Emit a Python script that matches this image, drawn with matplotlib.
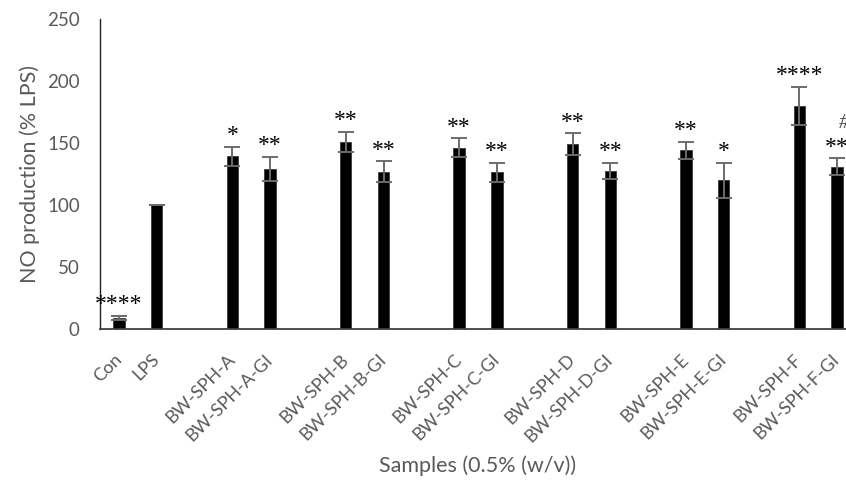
import numpy as np
import matplotlib.pyplot as plt

# Excel-style chart: empty categories leave the gaps between groups
categories = ['Con', 'LPS', '',
              'BW-SPH-A', 'BW-SPH-A-GI', '',
              'BW-SPH-B', 'BW-SPH-B-GI', '',
              'BW-SPH-C', 'BW-SPH-C-GI', '',
              'BW-SPH-D', 'BW-SPH-D-GI', '',
              'BW-SPH-E', 'BW-SPH-E-GI', '',
              'BW-SPH-F', 'BW-SPH-F-GI']
nan = np.nan
values = [8.9, 100, nan,
          139.3, 129, nan,
          151, 127, nan,
          146.2, 126.4, nan,
          149, 127.4, nan,
          144, 120, nan,
          180, 131]
errors = [1.6, 0.3, nan,
          7.7, 9.7, nan,
          8.1, 8.1, nan,
          7.5, 7.8, nan,
          8.9, 6.5, nan,
          7, 14.2, nan,
          15.3, 6.8]
stars = ['****', '', '',
         '*', '**', '',
         '**', '**', '',
         '**', '**', '',
         '**', '**', '',
         '**', '*', '',
         '****', '**']
hash_mark = {'BW-SPH-F-GI': '#'}

plt.rcParams['font.family'] = ['Lato', 'DejaVu Sans']

fig = plt.figure(figsize=(8.46, 4.83), dpi=100)
# axes runs past the right edge, as in the cropped original
ax = fig.add_axes([100 / 846, (483 - 329) / 483, 756 / 846, 310 / 483])

x = np.arange(len(categories))
vals = np.array(values, dtype=float)
errs = np.array(errors, dtype=float)

ax.bar(x, vals, width=0.3, color='black', edgecolor='#3a3a3a', linewidth=0.6, zorder=2)
ax.errorbar(x, vals, yerr=errs, fmt='none', ecolor='#6b6b6b', elinewidth=1.4,
            capsize=5.5, capthick=1.4, zorder=3)

for xi, v, e, s in zip(x, vals, errs, stars):
    if s:
        ax.annotate(s, (xi, v + e), xytext=(0, 4), textcoords='offset points',
                    ha='center', va='baseline', fontsize=17,
                    family='Liberation Serif', color='black')
for xi, c, v, e in zip(x, categories, vals, errs):
    if c in hash_mark:
        ax.annotate(hash_mark[c], (xi + 0.19, v + e), xytext=(0, 22),
                    textcoords='offset points', ha='center', va='baseline',
                    fontsize=15, family='Liberation Serif', style='italic',
                    color='#444444')

ax.set_xlim(-0.5, len(categories) - 0.5)
ax.set_ylim(0, 250)
ax.set_yticks([0, 50, 100, 150, 200, 250])
ax.set_xticks(x)
ax.set_xticklabels(categories)
ax.tick_params(axis='both', length=0, colors='#595959')
ax.tick_params(axis='y', pad=14.5, labelsize=13.5)
ax.tick_params(axis='x', pad=20, labelsize=13)
for lab in ax.get_xticklabels():
    lab.set_rotation(45)
    lab.set_rotation_mode('anchor')
    lab.set_ha('right')
    lab.set_va('center')

for sp in ['top', 'right']:
    ax.spines[sp].set_visible(False)
ax.spines['left'].set_color('#202020')
ax.spines['bottom'].set_color('#404040')
ax.spines['left'].set_linewidth(1.0)
ax.spines['bottom'].set_linewidth(1.3)

ax.set_ylabel('NO production (% LPS)', fontsize=15.5, color='#595959')
ax.set_xlabel('Samples (0.5% (w/v))', fontsize=15.5, color='#595959')
ax.xaxis.set_label_coords(0.5, (329 - 455) / 310)
ax.yaxis.set_label_coords((40 - 100) / 756, 0.5)

fig.savefig('out.png', dpi=100)
